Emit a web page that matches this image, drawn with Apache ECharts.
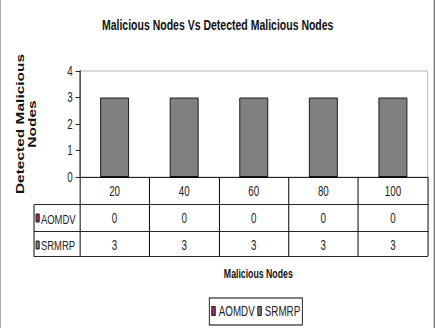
<!DOCTYPE html>
<html>
<head>
<meta charset="utf-8">
<script src="https://cdn.jsdelivr.net/npm/echarts@6/dist/echarts.min.js"></script>
<style>
    html, body {margin: 0; padding: 0; background: #fff; overflow: hidden;}
    /* 原图整体横向压缩约 0.7，这里画宽一些再缩放 */
    #chart {width: 622px; height: 328px; transform: scaleX(0.7); transform-origin: 0 0;}
</style>
</head>
<body>
<div id="chart"></div>
<script>
// 数据
var categories = ['20', '40', '60', '80', '100'];
var aomdv = [0, 0, 0, 0, 0];
var srmrp = [3, 3, 3, 3, 3];
var seriesNames = ['AOMDV', 'SRMRP'];
var seriesColors = ['#993366', '#808080'];

var font = '"Liberation Sans", Arial, sans-serif';
var rowH = 27;
var vLine = 1.4; // 竖线缩放后约 1px

// 表格的一行 = 一个类目轴
function tableAxis(offset, values, tickLen) {
    return {
        type: 'category',
        data: categories,
        position: 'bottom',
        offset: offset,
        gridIndex: 0,
        axisLine: {show: true, lineStyle: {color: '#000', width: 1}},
        axisTick: {show: tickLen > 0, length: tickLen, lineStyle: {color: '#000', width: vLine}},
        axisLabel: {
            show: !!values,
            margin: 7,
            color: '#222',
            fontFamily: font,
            fontSize: 14,
            formatter: function (v, i) {
                return values ? String(values[i]) : '';
            }
        },
        splitLine: {show: false}
    };
}

var option = {
    animation: false,
    backgroundColor: '#fff',
    title: [
        {
            text: 'Malicious Nodes Vs Detected Malicious Nodes',
            left: 'center',
            top: 12,
            textStyle: {fontFamily: font, fontSize: 15, fontWeight: 'bold', color: '#111'}
        },
        {
            text: 'Malicious Nodes',
            left: 364,
            textAlign: 'center',
            top: 262,
            textStyle: {fontFamily: font, fontSize: 12.5, fontWeight: 'bold', color: '#111'}
        }
    ],
    legend: {
        data: seriesNames,
        left: 299,
        top: 298,
        orient: 'horizontal',
        icon: 'rect',
        itemWidth: 5,
        itemHeight: 9,
        itemGap: 4,
        padding: [6, 3, 7, 3],
        borderColor: '#000',
        borderWidth: 1.2,
        itemStyle: {borderColor: '#000', borderWidth: 1},
        textStyle: {fontFamily: font, fontSize: 14, color: '#222'}
    },
    grid: {
        left: 114,
        right: 11,
        top: 71,
        bottom: 151,
        show: true,
        borderColor: '#aaa',
        borderWidth: 1,
        backgroundColor: 'transparent',
        outerBoundsMode: 'none'
    },
    xAxis: [
        tableAxis(0, categories, rowH),
        tableAxis(rowH, aomdv, rowH),
        tableAxis(rowH * 2, srmrp, 25),
        tableAxis(79, null, 0)
    ],
    yAxis: {
        type: 'value',
        min: 0,
        max: 4,
        interval: 1,
        name: 'Detected Malicious\nNodes',
        nameLocation: 'middle',
        nameGap: 60,
        nameTextStyle: {fontFamily: font, fontSize: 15.5, fontWeight: 'bold', color: '#111', lineHeight: 17},
        axisLine: {show: true, lineStyle: {color: '#000', width: vLine}},
        axisTick: {show: true, length: 6, lineStyle: {color: '#000'}},
        axisLabel: {margin: 10, color: '#222', fontFamily: font, fontSize: 14},
        splitLine: {show: false}
    },
    series: [
        {
            name: seriesNames[0],
            type: 'bar',
            data: aomdv,
            barWidth: 41,
            barGap: '-100%',
            itemStyle: {color: seriesColors[0], borderColor: '#000', borderWidth: 1}
        },
        {
            name: seriesNames[1],
            type: 'bar',
            data: srmrp,
            barWidth: 41,
            barGap: '-100%',
            itemStyle: {color: seriesColors[1], borderColor: '#000', borderWidth: 1}
        }
    ],
    graphic: [
        // 外框
        {type: 'line', shape: {x1: 0.7, y1: 0, x2: 0.7, y2: 328}, style: {stroke: '#aaa', lineWidth: 1.4}},
        {type: 'line', shape: {x1: 620.5, y1: 0, x2: 620.5, y2: 328}, style: {stroke: '#777', lineWidth: 2}},
        // 表格左侧图例列
        {type: 'line', shape: {x1: 48.6, y1: 204.5, x2: 114, y2: 204.5}, style: {stroke: '#000', lineWidth: 1}},
        {type: 'line', shape: {x1: 48.6, y1: 231.5, x2: 114, y2: 231.5}, style: {stroke: '#000', lineWidth: 1}},
        {type: 'line', shape: {x1: 48.6, y1: 256.5, x2: 114, y2: 256.5}, style: {stroke: '#000', lineWidth: 1}},
        {type: 'line', shape: {x1: 48.6, y1: 204.5, x2: 48.6, y2: 256.5}, style: {stroke: '#000', lineWidth: vLine}},
        {type: 'rect', shape: {x: 51.5, y: 214, width: 4.5, height: 8}, style: {fill: seriesColors[0], stroke: '#000', lineWidth: 1}},
        {type: 'rect', shape: {x: 51.5, y: 241, width: 4.5, height: 8}, style: {fill: seriesColors[1], stroke: '#000', lineWidth: 1}},
        {type: 'text', x: 58.5, y: 218.5, style: {text: seriesNames[0], font: '13.5px ' + font, fill: '#222', textVerticalAlign: 'middle'}},
        {type: 'text', x: 58.5, y: 245, style: {text: seriesNames[1], font: '13.5px ' + font, fill: '#222', textVerticalAlign: 'middle'}}
    ]
};

var myChart = echarts.init(document.getElementById('chart'), null, {renderer: 'svg'});
myChart.setOption(option);
</script>
</body>
</html>
